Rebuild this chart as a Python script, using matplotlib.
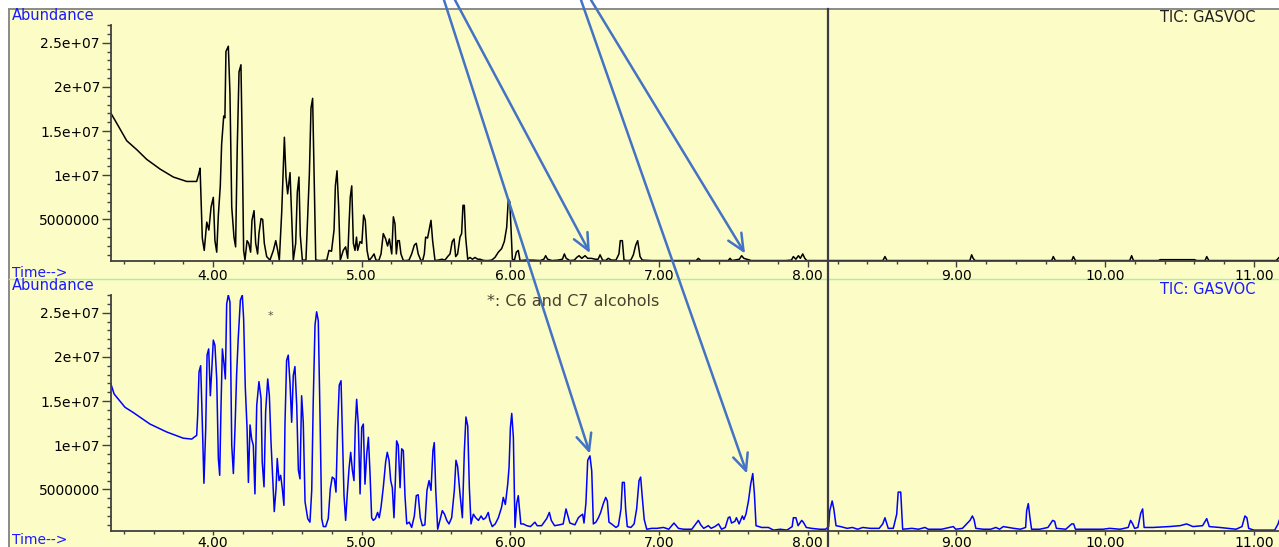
import matplotlib
matplotlib.use("Agg")
import matplotlib.pyplot as plt
from matplotlib.patches import Rectangle
from matplotlib.lines import Line2D
from matplotlib.ticker import MultipleLocator, FixedLocator, FixedFormatter

# ---------------- data (time in min, abundance in millions) ----------------
top_time = [3.314, 3.352, 3.420, 3.487, 3.554, 3.644, 3.733, 3.823, 3.890, 3.905, 3.913, 3.928, 3.941,
            3.958, 3.972, 3.987, 4.002, 4.013, 4.025, 4.036, 4.049, 4.058, 4.072, 4.080, 4.087, 4.103,
            4.114, 4.126, 4.141, 4.152, 4.163, 4.175, 4.188, 4.197, 4.206, 4.215, 4.229, 4.240, 4.253,
            4.262, 4.276, 4.287, 4.300, 4.309, 4.323, 4.334, 4.345, 4.361, 4.383, 4.406, 4.422, 4.435,
            4.446, 4.462, 4.473, 4.480, 4.491, 4.502, 4.518, 4.529, 4.540, 4.556, 4.567, 4.578, 4.587,
            4.601, 4.625, 4.637, 4.648, 4.659, 4.670, 4.679, 4.691, 4.720, 4.765, 4.780, 4.797, 4.814,
            4.823, 4.834, 4.845, 4.856, 4.876, 4.892, 4.906, 4.915, 4.923, 4.933, 4.944, 4.955, 4.965,
            4.973, 4.989, 5.001, 5.013, 5.024, 5.036, 5.049, 5.067, 5.083, 5.096, 5.115, 5.130, 5.145,
            5.161, 5.174, 5.186, 5.202, 5.213, 5.224, 5.233, 5.242, 5.253, 5.264, 5.280, 5.300, 5.318,
            5.336, 5.354, 5.367, 5.380, 5.397, 5.410, 5.421, 5.430, 5.443, 5.457, 5.466, 5.477, 5.493,
            5.515, 5.540, 5.560, 5.578, 5.594, 5.609, 5.621, 5.632, 5.645, 5.661, 5.672, 5.681, 5.690,
            5.699, 5.713, 5.728, 5.745, 5.762, 5.780, 5.796, 5.812, 5.829, 5.851, 5.874, 5.896, 5.919,
            5.941, 5.959, 5.975, 5.986, 5.996, 6.004, 6.013, 6.027, 6.040, 6.053, 6.065, 6.100, 6.150,
            6.200, 6.225, 6.237, 6.250, 6.280, 6.320, 6.350, 6.363, 6.375, 6.400, 6.430, 6.446, 6.462,
            6.480, 6.502, 6.520, 6.545, 6.570, 6.590, 6.603, 6.620, 6.640, 6.658, 6.680, 6.710, 6.730,
            6.739, 6.753, 6.764, 6.790, 6.810, 6.827, 6.843, 6.856, 6.872, 6.887, 6.950, 7.050, 7.150,
            7.250, 7.264, 7.280, 7.400, 7.465, 7.477, 7.490, 7.540, 7.555, 7.570, 7.590, 7.620, 7.750,
            7.850, 7.890, 7.903, 7.920, 7.937, 7.950, 7.966, 7.980, 7.993, 8.200, 8.505, 8.519, 8.533,
            8.800, 9.090, 9.102, 9.112, 9.125, 9.400, 9.640, 9.651, 9.665, 9.775, 9.786, 9.800, 10.165,
            10.178, 10.190, 10.357, 10.370, 10.600, 10.615, 10.672, 10.683, 10.697, 11.150, 11.170]
top_abund_m = [17.0, 15.9, 13.9, 12.9, 11.8, 10.7, 9.8, 9.3, 9.3, 10.2, 10.8, 2.9, 1.5,
               4.7, 3.8, 6.4, 7.5, 2.6, 1.3, 5.5, 8.8, 13.5, 16.7, 16.5, 24.0, 24.6,
               19.3, 6.4, 3.0, 1.9, 13.1, 21.7, 22.5, 12.9, 1.5, 0.4, 2.6, 2.3, 1.3,
               4.9, 6.0, 2.3, 1.1, 3.4, 5.1, 5.0, 2.3, 0.8, 0.4, 1.5, 2.6, 1.5,
               0.4, 5.8, 11.1, 14.3, 9.8, 7.9, 10.3, 5.3, 0.4, 2.3, 8.1, 9.8, 3.2,
               0.4, 0.4, 5.6, 10.1, 17.6, 18.7, 10.9, 0.4, 0.35, 0.4, 1.5, 1.4, 3.8,
               8.8, 10.5, 6.4, 0.4, 1.5, 1.9, 0.6, 4.5, 7.5, 8.8, 2.3, 1.5, 3.0,
               1.5, 2.5, 2.3, 5.5, 4.9, 1.5, 0.35, 0.7, 1.1, 0.4, 0.35, 1.1, 3.4,
               2.8, 2.0, 2.8, 1.1, 5.3, 4.5, 1.1, 2.6, 2.6, 1.1, 0.35, 0.35, 0.4,
               1.1, 2.1, 2.3, 1.1, 0.4, 0.35, 1.1, 3.0, 2.9, 4.1, 4.9, 2.6, 0.35,
               0.4, 0.5, 0.4, 0.8, 1.1, 2.5, 2.8, 0.8, 1.1, 3.0, 3.4, 6.6, 6.6,
               3.0, 0.5, 0.7, 0.5, 0.7, 0.5, 0.5, 0.4, 0.35, 0.35, 0.4, 0.7, 1.3,
               1.7, 2.5, 4.1, 7.3, 7.0, 4.1, 0.5, 0.4, 1.3, 1.5, 0.35, 0.4, 0.4,
               0.35, 0.5, 0.9, 0.5, 0.35, 0.4, 0.5, 1.1, 0.6, 0.35, 0.4, 0.7, 0.9,
               0.6, 0.9, 0.6, 0.6, 0.5, 0.5, 1.0, 0.4, 0.35, 0.6, 0.4, 0.4, 1.1,
               2.6, 2.6, 0.4, 0.35, 0.4, 1.0, 2.1, 2.6, 0.8, 0.4, 0.35, 0.35, 0.35,
               0.35, 0.6, 0.35, 0.35, 0.35, 0.6, 0.35, 0.5, 0.9, 0.6, 0.5, 0.35, 0.35,
               0.35, 0.4, 0.8, 0.5, 0.9, 0.6, 1.1, 0.6, 0.35, 0.35, 0.35, 0.8, 0.35,
               0.35, 0.35, 1.0, 0.6, 0.35, 0.35, 0.35, 0.8, 0.35, 0.35, 0.8, 0.35, 0.35,
               0.9, 0.35, 0.35, 0.45, 0.45, 0.35, 0.35, 0.8, 0.35, 0.35, 0.7]

bot_time = [3.314, 3.335, 3.408, 3.464, 3.576, 3.689, 3.800, 3.857, 3.880, 3.890, 3.897, 3.906, 3.917,
            3.928, 3.939, 3.951, 3.960, 3.971, 3.982, 3.991, 4.002, 4.013, 4.025, 4.036, 4.045, 4.054,
            4.063, 4.074, 4.083, 4.092, 4.103, 4.114, 4.126, 4.137, 4.148, 4.159, 4.170, 4.184, 4.197,
            4.206, 4.217, 4.229, 4.238, 4.249, 4.260, 4.271, 4.282, 4.294, 4.309, 4.323, 4.331, 4.343,
            4.354, 4.368, 4.379, 4.390, 4.401, 4.412, 4.424, 4.432, 4.444, 4.455, 4.466, 4.477, 4.484,
            4.495, 4.506, 4.518, 4.529, 4.540, 4.551, 4.563, 4.574, 4.585, 4.596, 4.607, 4.619, 4.637,
            4.652, 4.664, 4.674, 4.686, 4.697, 4.708, 4.720, 4.731, 4.742, 4.758, 4.775, 4.789, 4.802,
            4.816, 4.827, 4.838, 4.849, 4.861, 4.870, 4.881, 4.892, 4.903, 4.915, 4.926, 4.937, 4.948,
            4.957, 4.966, 4.977, 4.989, 5.000, 5.011, 5.022, 5.034, 5.045, 5.056, 5.067, 5.078, 5.092,
            5.107, 5.118, 5.130, 5.145, 5.161, 5.172, 5.184, 5.195, 5.206, 5.217, 5.226, 5.235, 5.246,
            5.258, 5.269, 5.280, 5.291, 5.303, 5.320, 5.336, 5.354, 5.367, 5.380, 5.394, 5.408, 5.425,
            5.439, 5.453, 5.466, 5.479, 5.488, 5.498, 5.511, 5.526, 5.542, 5.557, 5.572, 5.587, 5.605,
            5.623, 5.634, 5.645, 5.661, 5.677, 5.690, 5.701, 5.713, 5.724, 5.735, 5.751, 5.767, 5.785,
            5.803, 5.818, 5.834, 5.851, 5.862, 5.878, 5.898, 5.919, 5.941, 5.952, 5.966, 5.982, 5.991,
            6.000, 6.009, 6.020, 6.031, 6.042, 6.053, 6.060, 6.070, 6.087, 6.110, 6.135, 6.165, 6.180,
            6.210, 6.244, 6.262, 6.275, 6.297, 6.330, 6.355, 6.374, 6.387, 6.400, 6.434, 6.457, 6.470,
            6.486, 6.495, 6.508, 6.520, 6.535, 6.547, 6.558, 6.575, 6.592, 6.607, 6.625, 6.641, 6.652,
            6.663, 6.680, 6.710, 6.726, 6.744, 6.753, 6.766, 6.775, 6.786, 6.810, 6.832, 6.849, 6.865,
            6.876, 6.887, 6.900, 6.917, 6.950, 6.985, 7.030, 7.065, 7.100, 7.130, 7.165, 7.220, 7.264,
            7.280, 7.300, 7.331, 7.350, 7.375, 7.400, 7.420, 7.445, 7.465, 7.476, 7.487, 7.510, 7.520,
            7.538, 7.560, 7.570, 7.584, 7.601, 7.616, 7.630, 7.641, 7.652, 7.690, 7.735, 7.770, 7.815,
            7.860, 7.895, 7.903, 7.920, 7.935, 7.959, 7.970, 7.990, 8.025, 8.080, 8.120, 8.140, 8.148,
            8.164, 8.175, 8.190, 8.220, 8.265, 8.300, 8.335, 8.370, 8.420, 8.480, 8.504, 8.519, 8.530,
            8.541, 8.575, 8.598, 8.608, 8.625, 8.638, 8.700, 8.745, 8.788, 8.810, 8.900, 8.979, 8.995,
            9.040, 9.091, 9.107, 9.118, 9.130, 9.180, 9.230, 9.265, 9.290, 9.315, 9.350, 9.385, 9.430,
            9.465, 9.472, 9.483, 9.494, 9.505, 9.560, 9.615, 9.647, 9.660, 9.672, 9.735, 9.775, 9.788,
            9.800, 9.870, 9.985, 10.030, 10.100, 10.155, 10.171, 10.185, 10.198, 10.220, 10.239, 10.252,
            10.262, 10.320, 10.430, 10.503, 10.548, 10.590, 10.655, 10.683, 10.700, 10.770, 10.880,
            10.920, 10.940, 10.953, 10.965, 11.000, 11.140, 11.163, 11.170]
bot_abund_m = [16.9, 15.8, 14.3, 13.7, 12.4, 11.5, 10.8, 10.7, 11.0, 11.1, 13.4, 18.3, 19.0,
               12.6, 5.7, 11.9, 20.2, 20.9, 15.6, 18.3, 21.9, 21.3, 17.5, 8.5, 6.6, 14.5,
               20.9, 19.2, 17.5, 26.0, 27.0, 26.2, 10.0, 6.8, 11.9, 18.1, 22.2, 26.4, 27.0,
               24.3, 16.6, 11.9, 5.8, 12.3, 10.7, 10.0, 4.5, 14.5, 17.2, 15.3, 8.1, 5.3,
               13.8, 17.5, 15.6, 10.4, 6.4, 2.5, 5.1, 8.5, 6.0, 6.6, 5.1, 3.2, 12.4,
               19.6, 20.2, 17.0, 12.6, 17.9, 18.9, 14.5, 7.2, 6.2, 15.6, 12.6, 3.6, 1.7,
               1.3, 4.9, 14.9, 23.6, 25.1, 24.1, 13.0, 1.7, 0.8, 0.8, 1.7, 5.1, 6.4,
               6.2, 4.7, 11.9, 16.8, 17.3, 11.5, 4.3, 1.5, 4.5, 7.4, 9.2, 7.2, 6.0,
               12.2, 15.2, 12.4, 4.5, 12.0, 12.4, 5.6, 9.0, 10.9, 6.8, 1.8, 1.5, 1.7,
               2.4, 1.8, 3.0, 5.2, 8.1, 9.2, 8.3, 6.0, 5.2, 1.8, 5.8, 10.5, 10.0,
               5.2, 9.6, 9.4, 4.3, 1.1, 1.3, 0.7, 2.0, 4.3, 4.4, 1.8, 0.9, 1.0,
               4.9, 6.0, 4.9, 9.4, 10.3, 4.9, 0.5, 1.5, 2.6, 2.2, 1.5, 1.1, 1.8,
               4.9, 8.3, 7.6, 4.5, 1.8, 9.2, 13.2, 12.2, 5.2, 1.1, 2.2, 1.8, 1.5,
               2.0, 1.6, 1.8, 2.4, 1.5, 0.8, 1.1, 1.8, 3.0, 4.1, 3.3, 5.6, 7.5,
               12.0, 13.6, 10.9, 0.7, 3.4, 4.3, 3.0, 1.1, 1.1, 0.9, 0.8, 1.3, 0.9,
               0.9, 1.7, 2.4, 1.5, 0.9, 1.0, 1.1, 2.8, 2.0, 1.2, 1.0, 1.8, 2.0,
               2.2, 1.2, 3.5, 8.3, 8.8, 7.1, 1.1, 1.3, 1.8, 2.4, 3.4, 4.1, 3.7,
               1.3, 1.1, 0.7, 0.9, 2.8, 5.8, 5.8, 2.8, 0.8, 0.7, 1.1, 2.8, 6.0,
               6.4, 4.1, 1.6, 0.5, 0.6, 0.6, 0.7, 0.5, 1.2, 0.6, 0.5, 0.5, 1.5,
               1.0, 0.6, 0.9, 0.6, 0.8, 1.1, 0.5, 0.7, 1.8, 1.9, 1.2, 1.4, 1.8,
               1.1, 2.0, 1.6, 2.2, 3.7, 5.6, 6.8, 4.5, 0.9, 0.7, 0.7, 0.4, 0.5,
               0.4, 0.8, 1.8, 1.8, 0.9, 1.5, 1.3, 0.7, 0.6, 0.5, 0.5, 0.8, 2.6,
               3.7, 2.8, 0.9, 0.8, 0.6, 0.7, 0.5, 0.7, 0.6, 0.6, 1.1, 1.8, 1.2,
               0.6, 0.6, 2.2, 4.7, 4.7, 0.5, 0.6, 0.5, 0.7, 0.5, 0.5, 0.8, 0.5,
               0.6, 1.5, 2.0, 1.6, 0.6, 0.5, 0.5, 0.7, 0.5, 0.8, 0.7, 0.6, 0.5,
               0.7, 2.6, 3.4, 1.8, 0.5, 0.5, 0.7, 1.5, 1.4, 0.6, 0.5, 1.1, 1.1,
               0.5, 0.5, 0.5, 0.6, 0.5, 0.7, 1.5, 1.1, 0.6, 0.7, 2.3, 2.8,
               0.7, 0.7, 0.8, 0.9, 1.1, 0.8, 0.9, 1.7, 0.8, 0.7, 0.5,
               0.8, 2.0, 1.8, 0.6, 0.4, 0.4, 1.1, 1.5]

x_major_labels = ["4.00", "5.00", "6.00", "7.00", "8.00", "9.00", "10.00", "11.00"]
x_major_ticks = [4, 5, 6, 7, 8, 9, 10, 11]
y_tick_values = [5e6, 1e7, 1.5e7, 2e7, 2.5e7]
y_tick_labels = ["5000000", "1e+07", "1.5e+07", "2e+07", "2.5e+07"]

# arrow targets (time, abundance)
arrow_top_targets = [(6.535, 1.2e6), (7.578, 1.15e6)]
arrow_bot_targets = [(6.535, 9.05e6), (7.591, 6.8e6)]

# ---------------- layout ----------------
W, H = 1279, 547
fig = plt.figure(figsize=(W / 100, H / 100), dpi=100)
fig.patch.set_facecolor("white")

def fx(px):
    return px / W

def fy(py):
    return 1 - py / H

YELLOW = "#fcfcc6"
BLUE_TXT = "#1a1aff"

# panel backgrounds
fig.add_artist(Rectangle((fx(9), fy(279)), fx(W) - fx(9), fy(8) - fy(279),
                         transform=fig.transFigure, facecolor=YELLOW, edgecolor="none", zorder=-10))
fig.add_artist(Rectangle((fx(9), 0), fx(W) - fx(9), fy(279),
                         transform=fig.transFigure, facecolor=YELLOW, edgecolor="none", zorder=-10))
# frame lines
fig.add_artist(Line2D([fx(9), 1], [fy(8.5), fy(8.5)], transform=fig.transFigure,
                      color="#8a8a8a", lw=1.4, zorder=-5))
fig.add_artist(Line2D([fx(9), fx(9)], [0, fy(8.5)], transform=fig.transFigure,
                      color="#8a8a8a", lw=1.4, zorder=-5))
fig.add_artist(Line2D([fx(9), 1], [fy(279), fy(279)], transform=fig.transFigure,
                      color="#a8f0a0", lw=1.0, zorder=-5))

XL = (3.314, 11.169)
YL = (0.3e6, 27.0e6)

def make_axes(top_px, bottom_px, tick_len, tick_pad):
    ax = fig.add_axes([fx(111), fy(bottom_px), fx(W) - fx(111), fy(top_px) - fy(bottom_px)])
    ax.set_facecolor("none")
    ax.set_xlim(*XL)
    ax.set_ylim(*YL)
    for s in ("top", "right"):
        ax.spines[s].set_visible(False)
    for s in ("left", "bottom"):
        ax.spines[s].set_color("#404040")
        ax.spines[s].set_linewidth(1.3)
    ax.xaxis.set_major_locator(FixedLocator(x_major_ticks))
    ax.xaxis.set_major_formatter(FixedFormatter(x_major_labels))
    ax.xaxis.set_minor_locator(MultipleLocator(0.2))
    ax.yaxis.set_major_locator(FixedLocator(y_tick_values))
    ax.yaxis.set_major_formatter(FixedFormatter(y_tick_labels))
    ax.yaxis.set_minor_locator(MultipleLocator(1e6))
    ax.tick_params(axis="x", which="major", direction="out", length=tick_len, width=1.0,
                   color="#404040", labelsize=10, pad=tick_pad)
    ax.tick_params(axis="x", which="minor", direction="out", length=2.5, width=1.0, color="#404040")
    ax.tick_params(axis="y", which="major", direction="out", length=6.5, width=1.0,
                   color="#404040", labelsize=10, pad=1.5)
    ax.tick_params(axis="y", which="minor", direction="out", length=3, width=1.0, color="#404040")
    return ax

ax_top = make_axes(25, 261, 4.5, 1.0)
ax_bot = make_axes(295, 531, 3.0, 0.3)

ax_top.plot(top_time, [v * 1e6 for v in top_abund_m], color="black", lw=1.1)
ax_bot.plot(bot_time, [v * 1e6 for v in bot_abund_m], color="#0000ff", lw=1.1)

# panel texts
fig.text(fx(12), fy(15), "Abundance", color=BLUE_TXT, fontsize=10.5, ha="left", va="center")
fig.text(fx(12), fy(285), "Abundance", color=BLUE_TXT, fontsize=10.5, ha="left", va="center")
fig.text(fx(12), fy(273), "Time-->", color=BLUE_TXT, fontsize=10, ha="left", va="center")
fig.text(fx(12), fy(539.5), "Time-->", color=BLUE_TXT, fontsize=10, ha="left", va="center")
fig.text(fx(1160), fy(17), "TIC: GASVOC", color="#202020", fontsize=10.5, ha="left", va="center")
fig.text(fx(1160), fy(289), "TIC: GASVOC", color=BLUE_TXT, fontsize=10.5, ha="left", va="center")
fig.text(fx(487), fy(301), "*: C6 and C7 alcohols", color="#4a3f2f", fontsize=11.5,
         ha="left", va="center")
ax_bot.text(4.383, 24.6e6, "*", color="#555555", fontsize=8, ha="center", va="center")

# vertical separator line
fig.add_artist(Line2D([fx(828.5), fx(828.5)], [0, fy(9)], transform=fig.transFigure,
                      color="#3c3c48", lw=1.6, zorder=5))

# arrows
ARROW_C = "#4472c4"
astyle = dict(arrowstyle="->,head_length=1.2,head_width=0.55", color=ARROW_C, lw=1.8,
              shrinkA=0, shrinkB=0)
ax_top.annotate("", xy=arrow_top_targets[0], xycoords="data", xytext=(fx(455), 1.0),
                textcoords="figure fraction", arrowprops=astyle, annotation_clip=False)
ax_top.annotate("", xy=arrow_top_targets[1], xycoords="data", xytext=(fx(591), 1.0),
                textcoords="figure fraction", arrowprops=astyle, annotation_clip=False)
ax_bot.annotate("", xy=arrow_bot_targets[0], xycoords="data", xytext=(fx(444), 1.0),
                textcoords="figure fraction", arrowprops=astyle, annotation_clip=False)
ax_bot.annotate("", xy=arrow_bot_targets[1], xycoords="data", xytext=(fx(581), 1.0),
                textcoords="figure fraction", arrowprops=astyle, annotation_clip=False)

fig.savefig("out.png", dpi=100, facecolor=fig.get_facecolor())
